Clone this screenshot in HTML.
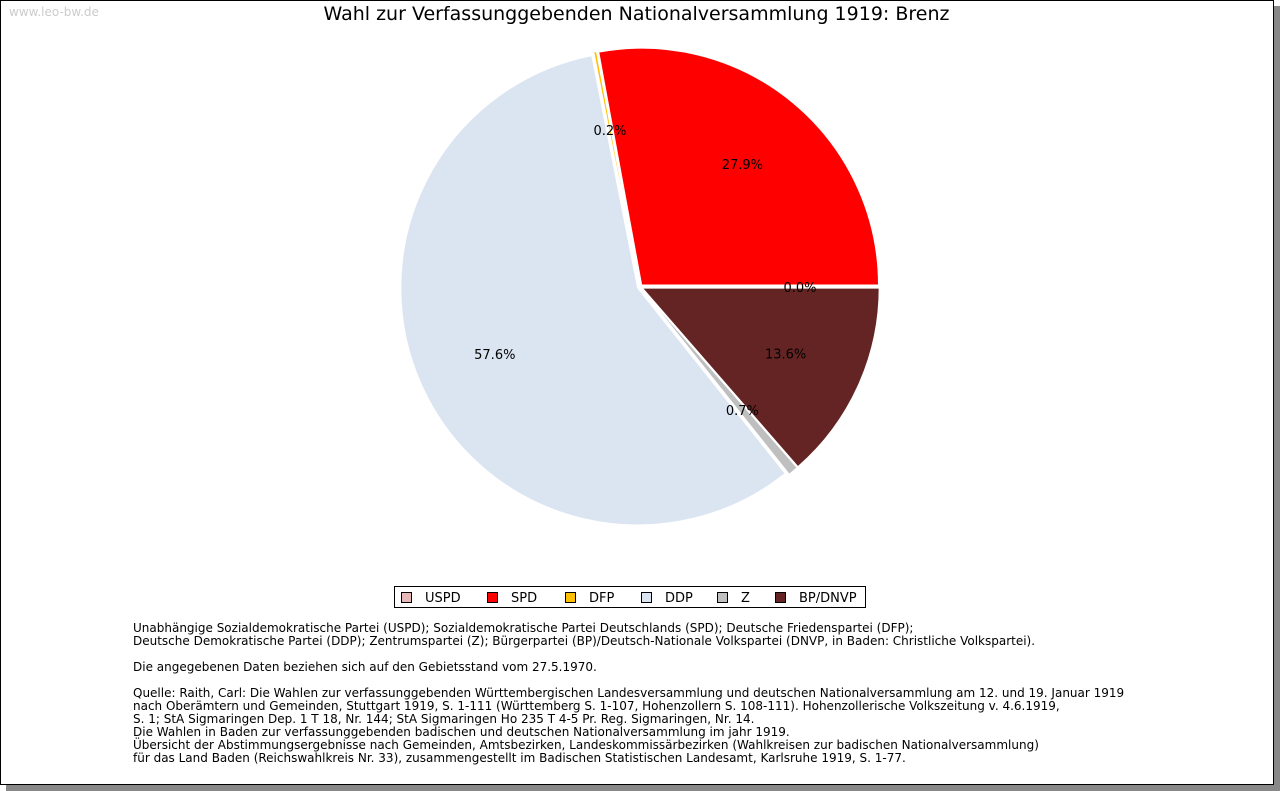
<!DOCTYPE html>
<html><head><meta charset="utf-8"><style>
body{margin:0;background:#fff;width:1280px;height:791px;overflow:hidden;font-family:"DejaVu Sans","Liberation Sans",sans-serif}
#frame{position:absolute;left:0;top:0;width:1272px;height:783px;border:1px solid #000;box-shadow:6px 6px 0 #888;background:#fff}
#wm{position:absolute;left:9px;top:5px;font-size:12px;color:#ccc}
#title{position:absolute;left:0;width:1273px;top:3px;text-align:center;font-size:19px;color:#000}
#notes{position:absolute;left:133px;top:622px;font-size:12px;line-height:13px;color:#000;white-space:pre}
</style></head><body>
<div id="frame"></div>
<div id="wm">www.leo-bw.de</div>
<div id="title">Wahl zur Verfassunggebenden Nationalversammlung 1919: Brenz</div>
<svg id="pie" width="1280" height="791" style="position:absolute;left:0;top:0"></svg>
<div id="notes">Unabhängige Sozialdemokratische Partei (USPD); Sozialdemokratische Partei Deutschlands (SPD); Deutsche Friedenspartei (DFP);
Deutsche Demokratische Partei (DDP); Zentrumspartei (Z); Bürgerpartei (BP)/Deutsch-Nationale Volkspartei (DNVP, in Baden: Christliche Volkspartei).

Die angegebenen Daten beziehen sich auf den Gebietsstand vom 27.5.1970.

Quelle: Raith, Carl: Die Wahlen zur verfassunggebenden Württembergischen Landesversammlung und deutschen Nationalversammlung am 12. und 19. Januar 1919
nach Oberämtern und Gemeinden, Stuttgart 1919, S. 1-111 (Württemberg S. 1-107, Hohenzollern S. 108-111). Hohenzollerische Volkszeitung v. 4.6.1919,
S. 1; StA Sigmaringen Dep. 1 T 18, Nr. 144; StA Sigmaringen Ho 235 T 4-5 Pr. Reg. Sigmaringen, Nr. 14.
Die Wahlen in Baden zur verfassunggebenden badischen und deutschen Nationalversammlung im jahr 1919.
Übersicht der Abstimmungsergebnisse nach Gemeinden, Amtsbezirken, Landeskommissärbezirken (Wahlkreisen zur badischen Nationalversammlung)
für das Land Baden (Reichswahlkreis Nr. 33), zusammengestellt im Badischen Statistischen Landesamt, Karlsruhe 1919, S. 1-77.</div>
<script>
const parties = ["USPD","SPD","DFP","DDP","Z","BP/DNVP"];
const shares = [0.0, 27.9, 0.2, 57.6, 0.7, 13.6];
const colors = ["#e8b8b8","#ff0000","#ffc000","#dbe5f1","#bfbfbf","#632423"];
const NS="http://www.w3.org/2000/svg";
const svg=document.getElementById('pie');
const cx=640, cy=287, r=237, off=2.5, lr=160;
const total=shares.reduce((a,b)=>a+b,0);
let a0=0;
function pt(x,y,a,rad){return [x+rad*Math.cos(a), y-rad*Math.sin(a)];}
shares.forEach((v,i)=>{
  const sweep=v/total*2*Math.PI, a1=a0+sweep, mid=a0+sweep/2;
  const ox=cx+off*Math.cos(mid), oy=cy-off*Math.sin(mid);
  if(v>0){
    const p0=pt(ox,oy,a0,r), p1=pt(ox,oy,a1,r);
    const path=document.createElementNS(NS,'path');
    path.setAttribute('d',`M${ox},${oy}L${p0[0]},${p0[1]}A${r},${r} 0 ${sweep>Math.PI?1:0} 0 ${p1[0]},${p1[1]}Z`);
    path.setAttribute('fill',colors[i]);path.setAttribute('stroke','#fff');path.setAttribute('stroke-width','1.2');
    
    
    svg.appendChild(path);
  }
  a0=a1;
});
a0=0;
shares.forEach((v,i)=>{
  const sweep=v/total*2*Math.PI, mid=a0+sweep/2;
  const p=pt(cx,cy,mid,lr);
  const t=document.createElementNS(NS,'text');
  t.setAttribute('x',p[0]);t.setAttribute('y',p[1]+5);t.setAttribute('text-anchor','middle');
  t.setAttribute('font-size','13');t.setAttribute('font-family','DejaVu Sans, sans-serif');
  t.textContent=v.toFixed(1)+'%';
  
  
  svg.appendChild(t);
  a0+=sweep;
});
const lg=document.createElementNS(NS,'g');


svg.appendChild(lg);
const box=document.createElementNS(NS,'rect');
box.setAttribute('x',394.5);box.setAttribute('y',586.5);box.setAttribute('width',471);box.setAttribute('height',21);
box.setAttribute('fill','#fff');box.setAttribute('stroke','#000');
lg.appendChild(box);
const lx=[401,487,565,641,717,775];
parties.forEach((p,i)=>{
  const g=document.createElementNS(NS,'g');
  
  
  const s=document.createElementNS(NS,'rect');
  s.setAttribute('x',lx[i]+0.5);s.setAttribute('y',592.5);s.setAttribute('width',10);s.setAttribute('height',10);
  s.setAttribute('fill',colors[i]);s.setAttribute('stroke','#000');
  const t=document.createElementNS(NS,'text');
  t.setAttribute('x',lx[i]+24);t.setAttribute('y',602);t.setAttribute('font-size','13');
  t.setAttribute('font-family','DejaVu Sans, sans-serif');t.textContent=p;
  g.appendChild(s);g.appendChild(t);lg.appendChild(g);
});
</script>
</body></html>
